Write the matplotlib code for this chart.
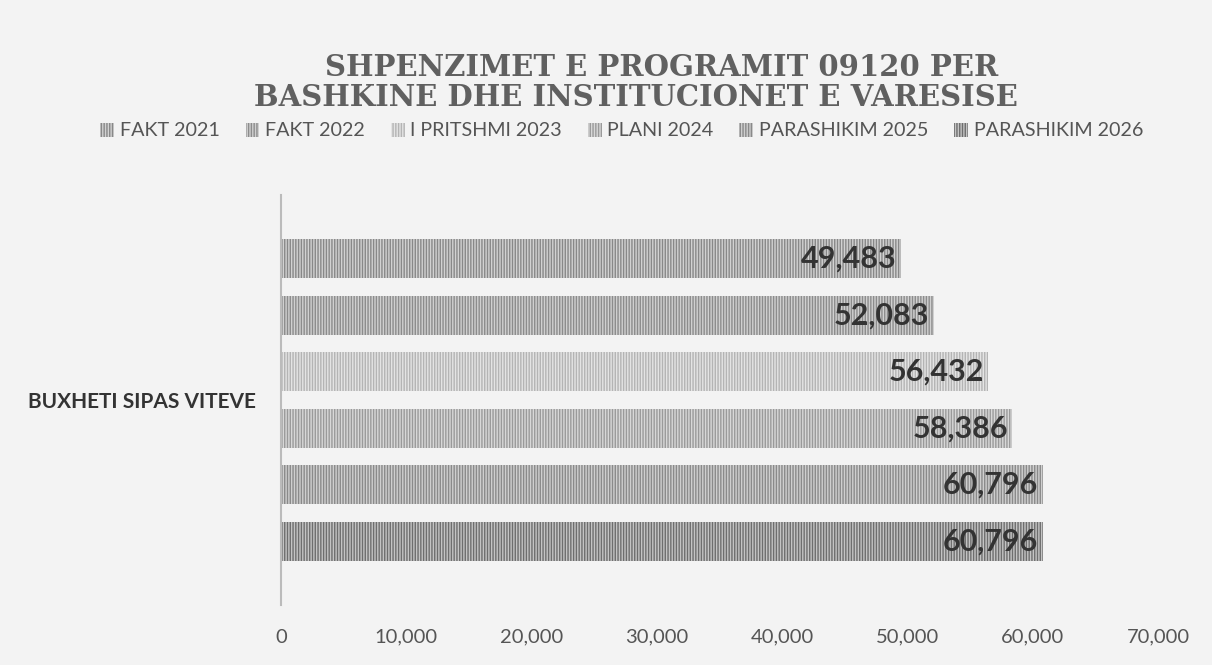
import matplotlib.pyplot as plt
from matplotlib.patches import Patch

# data
category = 'BUXHETI SIPAS VITEVE'
series = ['FAKT 2021', 'FAKT 2022', 'I PRITSHMI 2023', 'PLANI 2024', 'PARASHIKIM 2025', 'PARASHIKIM 2026']
values = [49483, 52083, 56432, 58386, 60796, 60796]
xticks = [0, 10000, 20000, 30000, 40000, 50000, 60000, 70000]

# styles: fill colour / hatch colour per series
fills = ['#d2d2d2', '#d0d0d0', '#e4e4e4', '#d8d8d8', '#cfcfcf', '#c4c4c4']
hatches = ['#888888', '#8c8c8c', '#b4b4b4', '#9a9a9a', '#8a8a8a', '#6e6e6e']

plt.rcParams['hatch.linewidth'] = 1.0

fig = plt.figure(figsize=(12.12, 6.65), dpi=100, facecolor='#f3f3f3')
ax = fig.add_axes([281 / 1212, 1 - 605 / 665, (1158 - 281) / 1212, (605 - 195) / 665])
ax.set_facecolor('#f3f3f3')

pitch = 0.138
height = 0.095
for i, (name, v) in enumerate(zip(series, values)):
    y = (i - 2.5) * pitch
    ax.barh(y, v, height=height, color=fills[i], edgecolor=hatches[i],
            hatch='||||||', linewidth=0, label=name)
    ax.text(v - 350, y, f'{v:,}', ha='right', va='center', fontsize=22,
            fontweight='bold', color='#333333', family='Lato')

ax.set_ylim(0.5, -0.5)
ax.set_xlim(0, 70000)
ax.set_yticks([0])
ax.set_yticklabels([category], fontsize=15, fontweight='bold', color='#333333', family='Lato')
ax.set_xticks(xticks)
ax.set_xticklabels([f'{t:,}' for t in xticks], fontsize=14.5, color='#555555', family='Lato')
ax.tick_params(length=0)
ax.tick_params(axis='x', pad=17)
ax.tick_params(axis='y', pad=18)
for s in ['top', 'right', 'bottom']:
    ax.spines[s].set_visible(False)
ax.spines['left'].set_color('#bbbbbb')
ax.spines['left'].set_linewidth(1.5)

fig.text(0.546, 1 - 67 / 665, 'SHPENZIMET E PROGRAMIT 09120 PER', ha='center', va='center',
         fontsize=21, fontweight='bold', color='#606060', family='DejaVu Serif')
fig.text(0.525, 1 - 98 / 665, 'BASHKINE DHE INSTITUCIONET E VARESISE', ha='center', va='center',
         fontsize=21, fontweight='bold', color='#606060', family='DejaVu Serif')

handles = [Patch(facecolor=fills[i], edgecolor=hatches[i], hatch='||||||', linewidth=0) for i in range(6)]
fig.legend(handles, series, loc='center', bbox_to_anchor=(0.513, 1 - 131 / 665), ncol=6,
           frameon=False, prop={'family': 'Lato', 'size': 14.2}, labelcolor='#555555',
           handlelength=0.7, handleheight=0.7, handletextpad=0.3, columnspacing=1.3)

fig.savefig('out.png', dpi=100, facecolor=fig.get_facecolor())
